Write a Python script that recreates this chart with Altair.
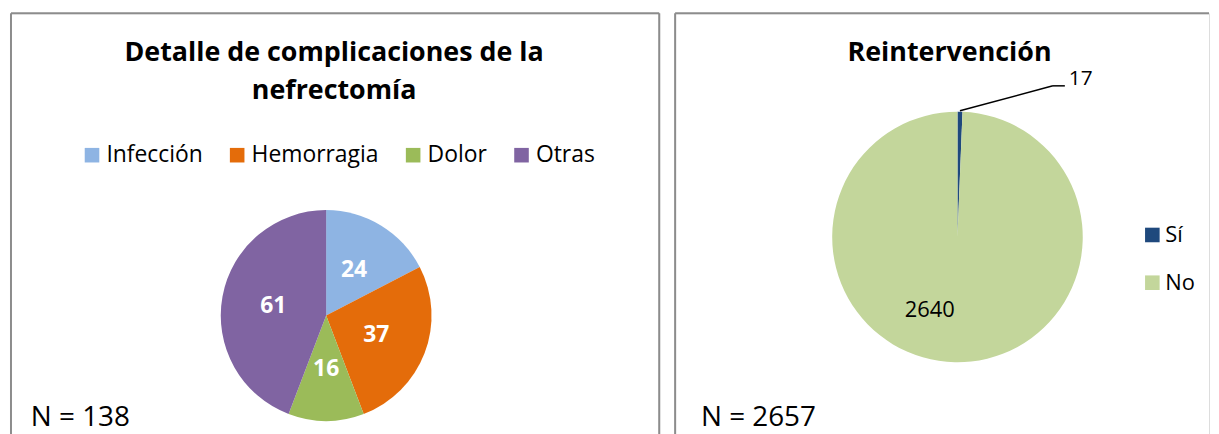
import altair as alt
import pandas as pd

# ---- data ----
cat1 = ["Infección", "Hemorragia", "Dolor", "Otras"]
val1 = [24, 37, 16, 61]
col1 = ["#8EB4E3", "#E46C0A", "#9BBB59", "#8064A2"]

cat2 = ["Sí", "No"]
val2 = [17, 2640]
col2 = ["#1F497D", "#C3D69B"]

title1 = ["Detalle de complicaciones de la", "nefrectomía"]
title2 = "Reintervención"
note1 = "N = 138"
note2 = "N = 2657"

FONT = "Open Sans"
W1, W2, H = 652, 537, 440
BORDER = "#8c8c8c"

df1 = pd.DataFrame({"cat": cat1, "val": val1, "ord": list(range(len(cat1)))})
df2 = pd.DataFrame({"cat": cat2, "val": val2, "ord": list(range(len(cat2)))})
one = pd.DataFrame({"a": [0]})


def txt(s, x, y, size, weight="normal", align="center", color="black"):
    return alt.Chart(pd.DataFrame({"t": [s]})).mark_text(
        font=FONT, fontSize=size, fontWeight=weight, align=align,
        baseline="middle", color=color
    ).encode(text="t:N", x=alt.value(x), y=alt.value(y))


def line(x1, y1, x2, y2, color=BORDER, w=2):
    return alt.Chart(one).mark_rule(color=color, strokeWidth=w).encode(
        x=alt.value(x1), y=alt.value(y1), x2=alt.value(x2), y2=alt.value(y2)
    )


# ---- left panel ----
cx1, cy1 = 317, 304
base1 = alt.Chart(df1).encode(
    theta=alt.Theta("val:Q", stack=True),
    order=alt.Order("ord:Q"),
)
pie1 = base1.mark_arc(radius=106).encode(
    color=alt.Color(
        "cat:N",
        scale=alt.Scale(domain=cat1, range=col1),
        legend=alt.Legend(
            title=None, orient="none", direction="horizontal",
            legendX=70, legendY=131, padding=0,
            symbolType="square", symbolSize=215, symbolStrokeWidth=0,
            labelFont=FONT, labelFontSize=23, labelColor="black",
            columnPadding=23, labelOffset=3,
        ),
    ),
    x=alt.value(cx1), y=alt.value(cy1),
)
lab1 = base1.mark_text(
    radius=54, font=FONT, fontSize=23, fontWeight="bold", color="white"
).encode(text="val:Q", x=alt.value(cx1), y=alt.value(cy1))

left = alt.layer(
    line(0, 0, W1, 0), line(0, 0, 0, H), line(W1, 0, W1, H),
    pie1, lab1,
    txt(title1[0], 325, 40, 27, "bold"),
    txt(title1[1], 325, 78, 27, "bold"),
    txt(note1, 20, 407, 28, align="left"),
).properties(width=W1, height=H)

# ---- right panel ----
cx2, cy2 = 284, 225
base2 = alt.Chart(df2).encode(
    theta=alt.Theta("val:Q", stack=True),
    order=alt.Order("ord:Q"),
)
pie2 = base2.mark_arc(radius=126).encode(
    color=alt.Color(
        "cat:N",
        scale=alt.Scale(domain=cat2, range=col2),
        legend=alt.Legend(
            title=None, orient="none", direction="vertical",
            legendX=469, legendY=212, padding=0,
            symbolType="square", symbolSize=215, symbolStrokeWidth=0,
            labelFont=FONT, labelFontSize=22, labelColor="black",
            rowPadding=26, labelOffset=2,
        ),
    ),
    x=alt.value(cx2), y=alt.value(cy2),
)
lab2 = alt.Chart(df2[df2["cat"] == "No"]).mark_text(
    font=FONT, fontSize=22, color="black", align="center", baseline="middle"
).encode(text="val:Q", x=alt.value(cx2 - 28), y=alt.value(cy2 + 73))
lab2s = alt.Chart(df2[df2["cat"] == "Sí"]).mark_text(
    font=FONT, fontSize=21, color="black", align="left", baseline="middle"
).encode(text="val:Q", x=alt.value(396), y=alt.value(66))

right = alt.layer(
    line(0, 0, W2, 0), line(0, 0, 0, H),
    pie2, lab2, lab2s,
    line(286.5, 98, 380, 73, "black", 1.5), line(380, 73, 392, 73, "black", 1.5),
    txt(title2, 276, 40, 27, "bold"),
    txt(note2, 26, 407, 28, align="left"),
).properties(width=W2, height=H)

chart = alt.hconcat(left, right, spacing=12).resolve_scale(
    color="independent"
).resolve_legend(color="independent").properties(
    padding={"left": 1, "top": 2, "right": 0, "bottom": 0},
).configure_view(
    strokeWidth=0
).configure(background="white")

chart.save("out.html", embed_options={"renderer": "svg", "actions": False})
